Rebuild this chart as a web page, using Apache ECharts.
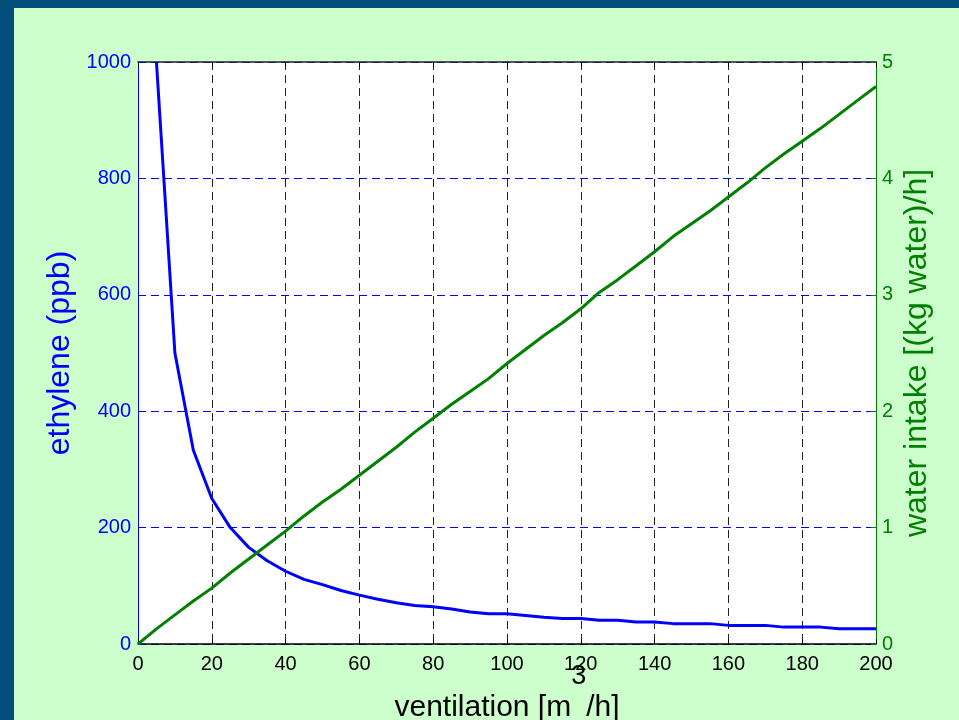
<!DOCTYPE html>
<html>
<head>
<meta charset="utf-8">
<script src="https://cdn.jsdelivr.net/npm/echarts@6/dist/echarts.min.js"></script>
<style>
  html, body { margin: 0; padding: 0; background: #044e7b; }
  #main { position: absolute; left: 14px; top: 8px; width: 945px; height: 712px; }
</style>
</head>
<body>
<div id="main"></div>
<script>
// ventilation [m3/h]
const ventilation = [0, 5, 10, 15, 20, 25, 30, 35, 40, 45, 50, 55, 60, 65, 70, 75, 80, 85, 90, 95, 100,
  105, 110, 115, 120, 125, 130, 135, 140, 145, 150, 155, 160, 165, 170, 175, 180, 185, 190, 195, 200]
// ethylene (ppb), no value at 0
const ethylene = [null, 1000, 500, 333, 250, 200, 166, 143, 125, 111, 102, 92, 84, 77, 71, 66, 64, 60, 55, 52, 52,
  49, 46, 44, 44, 41, 41, 38, 38, 35, 35, 35, 32, 32, 32, 29, 29, 29, 26, 26, 26]
// water intake [(kg water)/h]
const waterIntake = [0, 0.13, 0.25, 0.37, 0.48, 0.61, 0.73, 0.85, 0.97, 1.10, 1.22, 1.33, 1.45, 1.57, 1.69, 1.82,
  1.94, 2.06, 2.17, 2.28, 2.41, 2.53, 2.65, 2.76, 2.88, 3.02, 3.13, 3.25, 3.37, 3.50, 3.61, 3.72, 3.84, 3.96,
  4.09, 4.21, 4.32, 4.43, 4.55, 4.67, 4.79]
const xTicks = [0, 20, 40, 60, 80, 100, 120, 140, 160, 180, 200]
const leftTicks = [0, 200, 400, 600, 800, 1000]
const rightTicks = [0, 1, 2, 3, 4, 5]

const font = "Liberation Sans, Arial, sans-serif"
const myChart = echarts.init(document.getElementById("main"))

const option = {
  backgroundColor: "#ccffcc",
  animation: false,
  grid: {
    left: 124, right: 83, top: 54, bottom: 76,
    outerBoundsMode: "none", containLabel: false,
    show: true, backgroundColor: "#ffffff", borderWidth: 0,
  },
  xAxis: [
    {
      type: "value",
      min: xTicks[0],
      max: xTicks[xTicks.length - 1],
      interval: xTicks[1] - xTicks[0],
      // superscript 3 raised with padding on each part
      name: "{n|ventilation [m}{s|3}{n|/h]}",
      nameLocation: "middle",
      nameGap: 34,
      nameMoveOverlap: false,
      nameTextStyle: {
        rich: {
          n: { fontFamily: font, fontSize: 30, lineHeight: 30, color: "#000", padding: [30, 0, 0, 0] },
          s: { fontFamily: font, fontSize: 27, lineHeight: 27, color: "#000", padding: [0, 0, 33, 0] },
        },
      },
      axisLine: { onZero: false, lineStyle: { color: "#000", width: 1.5 } },
      axisTick: { inside: true, length: 5, lineStyle: { color: "#000" } },
      axisLabel: { fontFamily: font, fontSize: 20, color: "#000", margin: 10 },
      splitLine: { show: true, lineStyle: { color: "#222", type: [8, 5], width: 1 } },
    },
    {
      type: "value",
      position: "top",
      min: xTicks[0],
      max: xTicks[xTicks.length - 1],
      interval: xTicks[1] - xTicks[0],
      axisLine: { show: true, onZero: false, lineStyle: { color: "#222", width: 1.5 } },
      axisTick: { inside: true, length: 5, lineStyle: { color: "#000" } },
      axisLabel: { show: false },
      splitLine: { show: false },
    },
  ],
  yAxis: [
    {
      type: "value",
      min: leftTicks[0],
      max: leftTicks[leftTicks.length - 1],
      interval: leftTicks[1] - leftTicks[0],
      name: "ethylene (ppb)",
      nameLocation: "middle",
      nameGap: 62,
      nameMoveOverlap: false,
      nameTextStyle: { fontFamily: font, fontSize: 32, color: "#0000ff" },
      axisLine: { show: true, onZero: false, lineStyle: { color: "#0000ff", width: 1 } },
      axisTick: { show: true, inside: true, length: 5, lineStyle: { color: "#0000ff" } },
      axisLabel: { fontFamily: font, fontSize: 20, color: "#0000ff", margin: 7, formatter: (v) => String(v) },
      splitLine: { show: true, lineStyle: { color: "#0000ff", type: [8, 5], width: 1 } },
    },
    {
      type: "value",
      position: "right",
      min: rightTicks[0],
      max: rightTicks[rightTicks.length - 1],
      interval: rightTicks[1] - rightTicks[0],
      name: "water intake [(kg water)/h]",
      nameLocation: "middle",
      nameGap: 25,
      nameRotate: 90,
      nameMoveOverlap: false,
      nameTextStyle: { fontFamily: font, fontSize: 32, color: "#008000" },
      axisLine: { show: true, onZero: false, lineStyle: { color: "#008000", width: 1 } },
      axisTick: { show: true, inside: true, length: 5, lineStyle: { color: "#008000" } },
      axisLabel: { fontFamily: font, fontSize: 20, color: "#008000", margin: 6 },
      splitLine: { show: false },
    },
  ],
  series: [
    {
      name: "ethylene",
      type: "line",
      yAxisIndex: 0,
      showSymbol: false,
      clip: true,
      connectNulls: false,
      lineStyle: { color: "#0000ff", width: 3 },
      data: ventilation.map((v, i) => [v, ethylene[i]]),
    },
    {
      name: "water intake",
      type: "line",
      yAxisIndex: 1,
      showSymbol: false,
      lineStyle: { color: "#008000", width: 3 },
      data: ventilation.map((v, i) => [v, waterIntake[i]]),
    },
  ],
}

option && myChart.setOption(option)
</script>
</body>
</html>
